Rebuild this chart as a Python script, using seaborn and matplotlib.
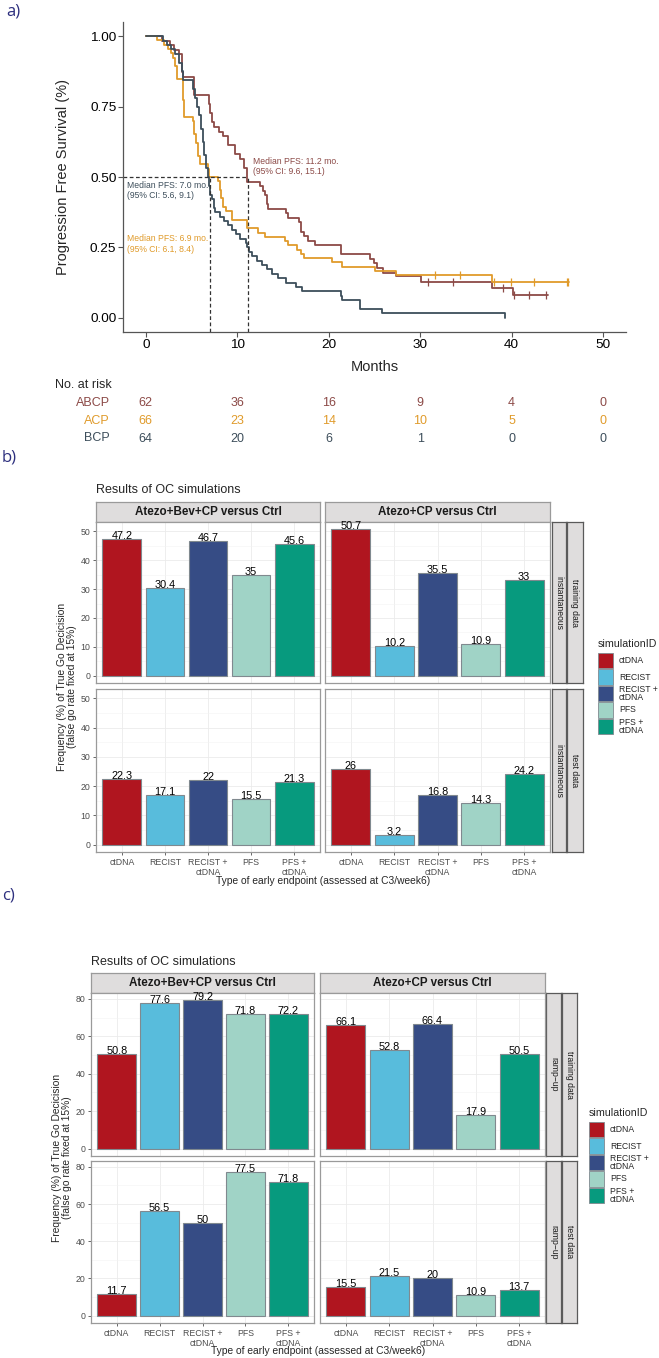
import matplotlib
matplotlib.use('Agg')
import matplotlib.pyplot as plt
from matplotlib.patches import Rectangle
import seaborn as sns
import pandas as pd
import numpy as np

# ---------------- panel a: Kaplan-Meier curves ----------------
km_groups = ['ABCP', 'ACP', 'BCP']
km_colors = ['#8c4a47', '#e09b2b', '#3d4e5b']

abcp_time = [0, 1.8, 2.6, 3.1, 3.6, 3.9, 4.1, 5.3, 6.9, 7.0, 7.2, 7.4, 8.0, 8.4, 9.0, 9.8, 10.3, 10.7, 11.1, 12.5,
             12.8, 13.0, 13.2, 13.4, 15.3, 15.5, 16.7, 17.0, 17.3, 17.7, 18.5, 21.3, 24.5, 24.9, 25.3, 25.9, 27.3,
             30.1, 37.8, 40.1, 44.0]
abcp_surv = [1.0, 0.984, 0.968, 0.952, 0.935, 0.871, 0.855, 0.790, 0.758, 0.726, 0.694, 0.677, 0.661, 0.645, 0.613,
             0.581, 0.565, 0.532, 0.484, 0.468, 0.452, 0.435, 0.403, 0.387, 0.371, 0.355, 0.339, 0.306, 0.290, 0.274,
             0.258, 0.226, 0.210, 0.194, 0.177, 0.161, 0.150, 0.127, 0.107, 0.080, 0.080]
abcp_censor = [30.8, 33.6, 39.0, 40.3, 41.9, 43.7]

acp_time = [0, 1.2, 2.0, 2.4, 2.8, 3.0, 3.2, 3.4, 4.1, 4.2, 5.1, 5.3, 5.5, 5.7, 5.9, 6.8, 6.9, 7.9, 8.1, 8.2,
            8.4, 8.8, 9.4, 11.1, 12.3, 13.0, 15.2, 15.5, 16.5, 17.0, 17.3, 20.4, 21.5, 25.0, 27.4, 37.9, 46.3]
acp_surv = [1.0, 0.985, 0.970, 0.955, 0.939, 0.924, 0.894, 0.848, 0.773, 0.712, 0.697, 0.652, 0.621, 0.576, 0.545,
            0.530, 0.500, 0.485, 0.455, 0.424, 0.394, 0.379, 0.348, 0.318, 0.303, 0.288, 0.273, 0.258, 0.242, 0.227,
            0.212, 0.197, 0.182, 0.167, 0.152, 0.127, 0.127]
acp_censor = [31.6, 34.4, 38.1, 39.9, 42.4, 46.0, 46.2]

bcp_time = [0, 1.9, 2.3, 2.7, 3.2, 3.6, 3.9, 4.1, 5.2, 5.4, 5.6, 5.8, 6.0, 6.2, 6.4, 6.6, 6.8, 6.95, 7.05, 7.2,
            7.4, 7.6, 8.1, 8.5, 9.0, 9.4, 9.9, 10.3, 10.9, 11.1, 11.3, 11.6, 12.1, 12.7, 13.2, 13.8, 14.5, 15.3,
            16.4, 17.1, 21.3, 21.5, 23.4, 25.8, 39.3]
bcp_surv = [1.0, 0.984, 0.969, 0.953, 0.938, 0.906, 0.875, 0.844, 0.812, 0.781, 0.750, 0.719, 0.672, 0.625, 0.578,
            0.531, 0.500, 0.469, 0.437, 0.422, 0.391, 0.375, 0.359, 0.344, 0.328, 0.312, 0.297, 0.281, 0.266, 0.250,
            0.234, 0.219, 0.203, 0.188, 0.172, 0.156, 0.141, 0.125, 0.109, 0.094, 0.078, 0.062, 0.031, 0.016, 0.0]
bcp_censor = []

median_pfs = [11.2, 6.9, 7.0]
median_ci = [(9.6, 15.1), (6.1, 8.4), (5.6, 9.1)]

risk_times = [0, 10, 20, 30, 40, 50]
risk_abcp = [62, 36, 16, 9, 4, 0]
risk_acp = [66, 23, 14, 10, 5, 0]
risk_bcp = [64, 20, 6, 1, 0, 0]

# ---------------- panels b and c: OC simulation results ----------------
endpoints = ['ctDNA', 'RECIST', 'RECIST +\nctDNA', 'PFS', 'PFS +\nctDNA']
endpoint_colors = ['#b0151f', '#58bcdc', '#364c85', '#a0d3c6', '#079a7e']
arms = ['Atezo+Bev+CP versus Ctrl', 'Atezo+CP versus Ctrl']

b_train_abcp = [47.2, 30.4, 46.7, 35, 45.6]
b_train_acp = [50.7, 10.2, 35.5, 10.9, 33]
b_test_abcp = [22.3, 17.1, 22, 15.5, 21.3]
b_test_acp = [26, 3.2, 16.8, 14.3, 24.2]

c_train_abcp = [50.8, 77.6, 79.2, 71.8, 72.2]
c_train_acp = [66.1, 52.8, 66.4, 17.9, 50.5]
c_test_abcp = [11.7, 56.5, 50, 77.5, 71.8]
c_test_acp = [15.5, 21.5, 20, 10.9, 13.7]

# ---------------- figure helpers (pixel layout) ----------------
W, H = 659, 1358
sns.set_style('white')
plt.rcParams['font.family'] = ['Liberation Sans', 'DejaVu Sans']

fig = plt.figure(figsize=(W / 100, H / 100), dpi=100, facecolor='white')


def ax_at(x0, y0, x1, y1):
    return fig.add_axes([x0 / W, 1 - y1 / H, (x1 - x0) / W, (y1 - y0) / H])


def ftext(x, y, s, **kw):
    kw.setdefault('va', 'center')
    return fig.text(x / W, 1 - y / H, s, **kw)


NAVY = '#2d2f7e'
BORDER = '#9a9a9a'

# ---------------- panel a ----------------
ftext(6, 12, 'a)', fontsize=12, color=NAVY, family=['Open Sans', 'DejaVu Sans'])

ax = ax_at(123, 22, 626, 332)
km_data = [(abcp_time, abcp_surv, abcp_censor), (acp_time, acp_surv, acp_censor), (bcp_time, bcp_surv, bcp_censor)]
for (t, s, cens), col in zip(km_data, km_colors):
    df = pd.DataFrame({'t': t, 's': s})
    sns.lineplot(data=df, x='t', y='s', drawstyle='steps-post', color=col, lw=1.3,
                 estimator=None, sort=False, ax=ax)
    if cens:
        idx = np.searchsorted(t, cens, side='right') - 1
        ax.plot(cens, np.array(s)[idx], ls='none', marker='|', ms=6, mew=0.9, color=col)

ax.set_xlim(-2.5, 52.5)
ax.set_ylim(-0.05, 1.05)
# median reference lines
ax.plot([-2.5, max(median_pfs)], [0.5, 0.5], color='#333333', lw=0.9, ls=(0, (3, 2)))
for m in [median_pfs[0], median_pfs[2]]:
    ax.plot([m, m], [-0.05, 0.5], color='#333333', lw=0.9, ls=(0, (3, 2)))

ann_pos = [(11.7, 0.537), (-2.1, 0.262), (-2.1, 0.452)]
for (m, ci), col, (tx, ty) in zip(zip(median_pfs, median_ci), km_colors, ann_pos):
    ax.text(tx, ty, f'Median PFS: {m:.1f} mo.\n(95% CI: {ci[0]}, {ci[1]})', color=col,
            fontsize=6.2, ha='left', va='center', linespacing=1.25)

ax.set_xticks(risk_times)
ax.set_yticks([0, 0.25, 0.5, 0.75, 1.0])
ax.set_yticklabels(['0.00', '0.25', '0.50', '0.75', '1.00'])
ax.tick_params(axis='both', labelsize=9.7, colors='black', length=3.5, width=0.8, pad=1.2,
               direction='out', left=True, bottom=True, color='#555555')
ax.set_xlabel('')
ax.set_ylabel('')
for side in ['top', 'right']:
    ax.spines[side].set_visible(False)
for side in ['left', 'bottom']:
    ax.spines[side].set_color('#555555')
    ax.spines[side].set_linewidth(0.9)
ax.grid(False)

ftext(63, 177, 'Progression Free Survival (%)', rotation=90, ha='center', fontsize=10.5)
ftext(374.5, 367, 'Months', ha='center', fontsize=10.5)

# risk table
ftext(55, 385, 'No. at risk', ha='left', fontsize=9)
axr = ax_at(123, 394, 626, 448)
axr.set_xlim(-2.5, 52.5)
axr.set_ylim(2.5, -0.5)
axr.axis('off')
for row, (g, counts, col) in enumerate(zip(km_groups, [risk_abcp, risk_acp, risk_bcp], km_colors)):
    for t, n in zip(risk_times, counts):
        axr.text(t, row, str(n), ha='center', va='center', color=col, fontsize=9)
    ftext(110, 403 + 17.7 * row, g, ha='right', color=col, fontsize=9)


# ---------------- panels b / c ----------------
def strip(x0, y0, x1, y1, text, rot=0, bold=False, size=8, edge=BORDER):
    s = ax_at(x0, y0, x1, y1)
    s.set_facecolor('#dfdddd')
    s.set_xticks([])
    s.set_yticks([])
    for sp in s.spines.values():
        sp.set_color(edge)
        sp.set_linewidth(0.9)
    s.text(0.5, 0.5, text, transform=s.transAxes, ha='center', va='center', rotation=rot,
           fontsize=size, fontweight='bold' if bold else 'normal', color='#1a1a1a')
    return s


def bar_block(values, lay, inner_label, ymajor, yminor):
    ymax = max(max(v) for v in values.values())
    ylim = (-0.05 * ymax, 1.05 * ymax)
    ftext(lay['cols'][0][0], lay['title_y'], 'Results of OC simulations', ha='left', fontsize=9)
    for c, (cx0, cx1) in enumerate(lay['cols']):
        strip(cx0, lay['strip_y'][0], cx1, lay['strip_y'][1], arms[c], bold=True, size=8.4)
    for r, (ry0, ry1) in enumerate(lay['rows']):
        strip(lay['inner'][0], ry0, lay['inner'][1], ry1, inner_label, rot=270, size=6.2, edge='#5a5a5a')
        strip(lay['outer'][0], ry0, lay['outer'][1], ry1, ['training data', 'test data'][r], rot=270,
              size=6.2, edge='#5a5a5a')
        for c, (cx0, cx1) in enumerate(lay['cols']):
            ax = ax_at(cx0, ry0, cx1, ry1)
            vals = values[(r, c)]
            df = pd.DataFrame({'endpoint': endpoints, 'freq': vals})
            sns.barplot(data=df, x='endpoint', y='freq', hue='endpoint', order=endpoints,
                        hue_order=endpoints, palette=endpoint_colors, width=0.9, saturation=1,
                        edgecolor='#80898f', linewidth=0.8, legend=False, ax=ax, zorder=2)
            for i, v in enumerate(vals):
                ax.text(i, v, f'{v:g}', ha='center', va='baseline', fontsize=7.8, color='black', zorder=3)
            ax.set_xlim(-0.6, 4.6)
            ax.set_ylim(*ylim)
            ax.set_yticks(ymajor)
            ax.set_yticks(yminor, minor=True)
            ax.set_axisbelow(True)
            ax.grid(which='major', color='#ebebeb', lw=0.6)
            ax.grid(which='minor', axis='y', color='#f3f3f3', lw=0.4)
            ax.set_xlabel('')
            ax.set_ylabel('')
            for sp in ax.spines.values():
                sp.set_color(BORDER)
                sp.set_linewidth(0.9)
            ax.tick_params(axis='y', which='minor', length=0)
            ax.tick_params(axis='both', which='major', labelsize=6.3, colors='#4d4d4d', length=2.5,
                           width=0.6, pad=1.5, direction='out')
            if c > 0:
                ax.tick_params(axis='y', which='major', length=0, labelleft=False)
            else:
                ax.tick_params(axis='y', left=True)
            if r == 0:
                ax.tick_params(axis='x', length=0, labelbottom=False)
            else:
                ax.tick_params(axis='x', bottom=True)
    x_mid = (lay['cols'][0][0] + lay['cols'][1][1]) / 2
    ftext(x_mid, lay['xlabel_y'], 'Type of early endpoint (assessed at C3/week6)', ha='center', fontsize=7.4)
    y_mid = (lay['rows'][0][0] + lay['rows'][1][1]) / 2
    ftext(lay['ylabel_x'], y_mid, 'Frequency (%) of True Go Decicision\n(false go rate fixed at 15%)',
          rotation=90, ha='center', fontsize=7.4, linespacing=0.95)
    # legend
    lx, ly = lay['legend']
    ftext(lx, ly, 'simulationID', ha='left', fontsize=7.7)
    for k, (lab, col) in enumerate(zip(endpoints, endpoint_colors)):
        top = ly + 9 + 16.4 * k
        fig.add_artist(Rectangle((lx / W, 1 - (top + 15.4) / H), 15 / W, 15.4 / H, transform=fig.transFigure,
                                 facecolor=col, edgecolor='#80898f', lw=0.6))
        ftext(lx + 21, top + 7.7, lab, ha='left', fontsize=6.2, linespacing=0.9)


ftext(2, 457, 'b)', fontsize=12, color=NAVY, family=['Open Sans', 'DejaVu Sans'])
lay_b = dict(title_y=490, strip_y=(502, 522), cols=[(96, 320), (325, 550)],
             rows=[(522, 683), (689, 852)], inner=(552, 566), outer=(567, 583),
             xlabel_y=881, ylabel_x=67, legend=(598, 644))
bar_block({(0, 0): b_train_abcp, (0, 1): b_train_acp, (1, 0): b_test_abcp, (1, 1): b_test_acp},
          lay_b, 'instantaneous', np.arange(0, 51, 10), np.arange(5, 51, 10))

ftext(2, 895, 'c)', fontsize=12, color=NAVY, family=['Open Sans', 'DejaVu Sans'])
lay_c = dict(title_y=962, strip_y=(973, 993), cols=[(91, 314), (320, 545)],
             rows=[(993, 1156), (1161, 1323)], inner=(546, 561), outer=(562, 577),
             xlabel_y=1351, ylabel_x=62, legend=(589, 1113))
bar_block({(0, 0): c_train_abcp, (0, 1): c_train_acp, (1, 0): c_test_abcp, (1, 1): c_test_acp},
          lay_c, 'ramp\u2212up', np.arange(0, 81, 20), np.arange(10, 81, 20))

fig.savefig('out.png', dpi=100, facecolor='white')
